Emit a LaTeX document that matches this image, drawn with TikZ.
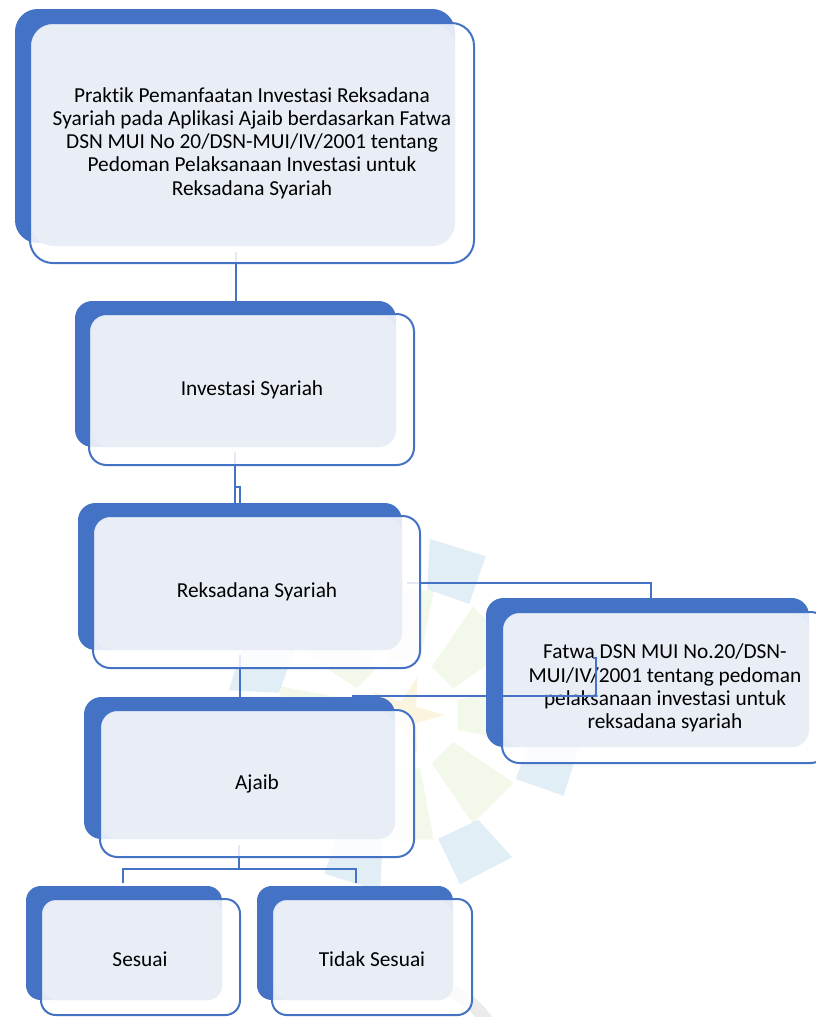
\documentclass[tikz,border=0pt]{standalone}
\usepackage{fontspec}
\setmainfont[Ligatures={NoCommon,NoRequired,NoContextual}]{Carlito}
\definecolor{sblue}{HTML}{4472C4}
\definecolor{slite}{HTML}{E9EEF7}
\definecolor{wmgreen}{HTML}{8DC63F}
\definecolor{wmblue}{HTML}{2E86C1}
\definecolor{wmyellow}{HTML}{E8B93A}
\begin{document}
\begin{tikzpicture}[x=0.75pt,y=-0.75pt,
  backbox/.style={fill=sblue,rounded corners=#1},
  whitebox/.style={fill=white,fill opacity=0.85,rounded corners=#1},
  litebox/.style={fill=slite,fill opacity=0.92,rounded corners=#1},
  framebox/.style={draw=sblue,line width=1.5pt,rounded corners=#1},
  conn/.style={draw=sblue,line width=1.15pt},
  lbl/.style={align=center,inner sep=0pt,text=black,font=\fontsize{16}{17.4}\selectfont}
]
\useasboundingbox (0,0) rectangle (816,1017);
% ---- faint watermark ----
\begin{scope}[shift={(405,715)}]
  \foreach \a in {0,45,...,315}{
    \fill[wmgreen,opacity=0.11] (\a-16:55) -- (\a+16:55) -- (\a+13:128) -- (\a-13:128) -- cycle;
    \fill[wmblue,opacity=0.14] (\a+10:128) -- (\a+30:128) -- (\a+27:178) -- (\a+8:178) -- cycle;
  }
  \fill[wmyellow,opacity=0.16] (0:40) -- (36:14) -- (72:40) -- (108:14) -- (144:40) -- (180:14) -- (216:40) -- (252:14) -- (288:40) -- (324:14) -- cycle;
\end{scope}
\draw[gray,opacity=0.16,line width=10pt] (420,1065) ++(-95:80) arc[start angle=-95,end angle=-5,radius=80];
% ---- connector coordinates ----
\coordinate (c1a) at (236,252);
\coordinate (c1b) at (236,301);
\coordinate (c2a) at (235,452);
\coordinate (c2b) at (235,503);
\coordinate (c2c) at (235,487);
\coordinate (c2d) at (240,503);
\coordinate (c3a) at (407,583);
\coordinate (c3b) at (651,598);
\coordinate (c4a) at (240,655);
\coordinate (c4b) at (240,697);
\coordinate (c5a) at (239,845);
\coordinate (c5b) at (239,869);
\coordinate (c5l) at (123,883);
\coordinate (c5r) at (356,883);
\draw[conn] (c1a) -- (c1b);
\draw[conn] (c2a) -- (c2b);
\draw[conn] (c2c) -| (c2d);
\draw[conn] (c3a) -| (c3b);
\draw[conn] (c4a) -- (c4b);
\draw[conn] (c5a) -- (c5b);
\draw[conn] (c5l) |- (c5b) -| (c5r);
% ---- box 1 : title ----
\fill[backbox=17] (15,9) rectangle (455,243);
\fill[whitebox=17] (30,23) rectangle (474,263);
\fill[litebox=17] (31,25) rectangle (455,246);
\draw[framebox=17] (30,23) rectangle (474,263);
\node[lbl] (title) at (252,143) {Praktik Pemanfaatan Investasi Reksadana\\Syariah pada Aplikasi Ajaib berdasarkan Fatwa\\DSN MUI No 20/DSN-MUI/IV/2001 tentang\\Pedoman Pelaksanaan Investasi untuk\\Reksadana Syariah};
% ---- box 2 ----
\fill[backbox=13] (75,301) rectangle (396,447);
\fill[whitebox=13] (89,314) rectangle (414,465);
\fill[litebox=13] (92,316) rectangle (396,447);
\draw[framebox=13] (89,314) rectangle (414,465);
\node[lbl] (invest) at (252,390) {Investasi Syariah};
% ---- box 3 ----
\fill[backbox=13] (78,503) rectangle (402,650);
\fill[whitebox=13] (93,516) rectangle (420,668);
\fill[litebox=13] (95,518) rectangle (402,650);
\draw[framebox=13] (93,516) rectangle (420,668);
\node[lbl] (reks) at (257,592) {Reksadana Syariah};
% ---- box 4 : fatwa ----
\fill[backbox=13] (486,598) rectangle (809,747);
\fill[whitebox=13] (502,612) rectangle (828,763);
\fill[litebox=13] (503,614) rectangle (809,747);
\draw[framebox=13] (502,612) rectangle (828,763);
\node[lbl] (fatwa) at (665,688) {Fatwa DSN MUI No.20/DSN-\\MUI/IV/2001 tentang pedoman\\pelaksanaan investasi untuk\\reksadana syariah};
% ---- box 5 : ajaib ----
\fill[backbox=13] (84,697) rectangle (395,839);
\fill[whitebox=13] (100,710) rectangle (414,857);
\fill[litebox=13] (101,712) rectangle (395,839);
\draw[framebox=13] (100,710) rectangle (414,857);
\node[lbl] (ajaib) at (257,784) {Ajaib};
% ---- box 6 : sesuai ----
\fill[backbox=11] (26,886) rectangle (222,1000);
\fill[whitebox=11] (41,899) rectangle (240,1015);
\fill[litebox=11] (43,901) rectangle (222,1000);
\draw[framebox=11] (41,899) rectangle (240,1015);
\node[lbl] (sesuai) at (140,959) {Sesuai};
% ---- box 7 : tidak sesuai ----
\fill[backbox=11] (257,886) rectangle (453,1000);
\fill[whitebox=11] (272,899) rectangle (472,1015);
\fill[litebox=11] (274,901) rectangle (453,1000);
\draw[framebox=11] (272,899) rectangle (472,1015);
\node[lbl] (tidak) at (372,959) {Tidak Sesuai};
% ---- stray line over the fatwa box ----
\coordinate (s1) at (352,696);
\coordinate (s2) at (596,658);
\coordinate (s3) at (593,658);
\draw[conn] (s1) -| (s2) -- (s3);
\end{tikzpicture}
\end{document}
